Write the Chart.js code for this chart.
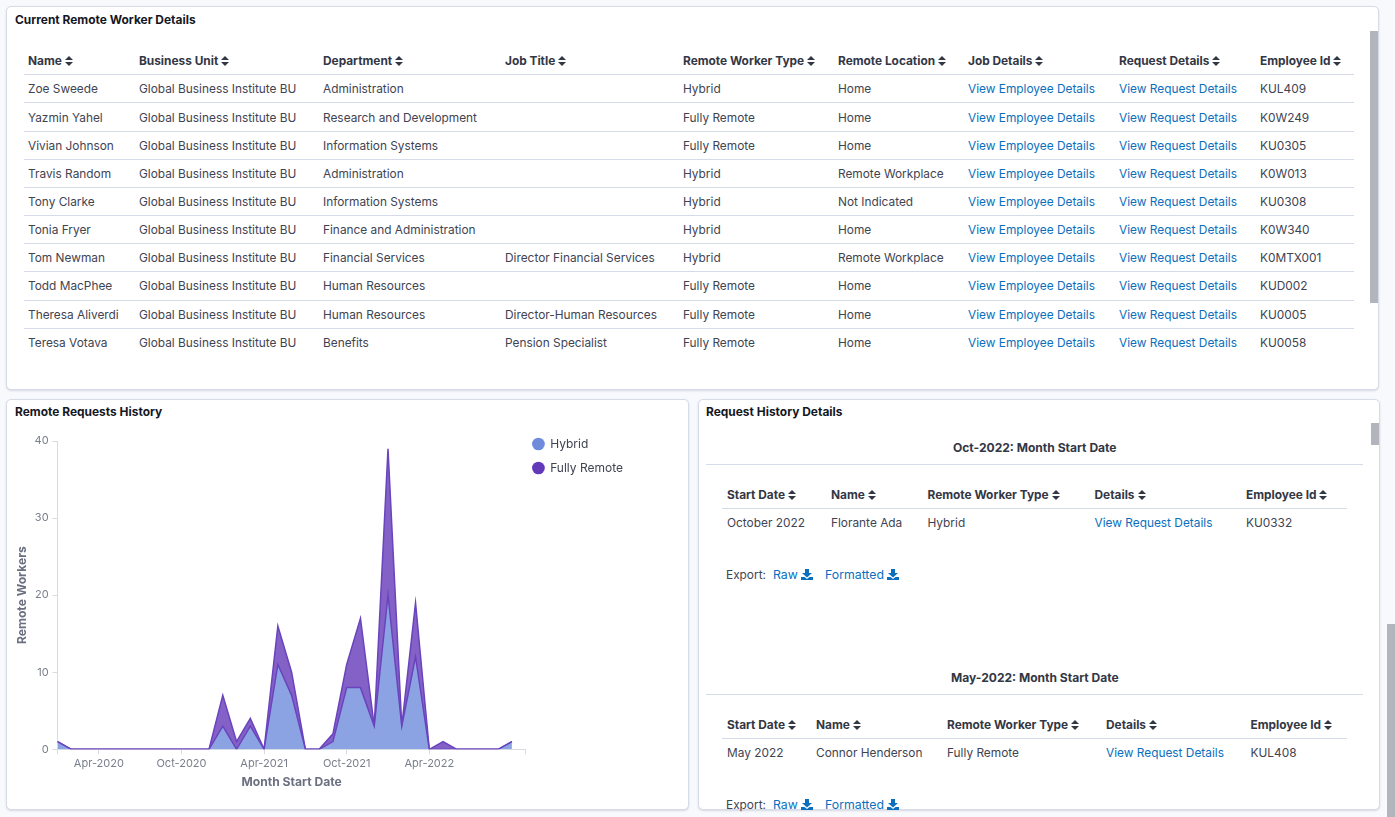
<!DOCTYPE html>
<html><head><meta charset="utf-8">
<script src="https://cdn.jsdelivr.net/npm/chart.js@4"></script>
<style>
html,body{margin:0;padding:0;width:1395px;height:817px;overflow:hidden;background:#f8f9fc;font-family:Inter,"Noto Sans",sans-serif;color:#3f4452;font-size:11.87px}
.panel{position:absolute;background:#fff;border:1px solid #d5dbe9;border-radius:5px;box-shadow:0 1px 2px rgba(60,70,110,.18);box-sizing:border-box;overflow:hidden}
.title{position:absolute;font-weight:700;font-size:11.95px;color:#15171f;white-space:nowrap;line-height:14px}
.c{position:absolute;white-space:nowrap;line-height:14px;transform:translateY(-7px)}
.h{font-weight:700;color:#333744}
.t{font-size:12.05px}
.e{font-size:12.3px}
.l{color:#0b6fbd}
.hr{position:absolute;height:1px;background:#d5dbe9}
.sb{position:absolute;background:#b3b5bd}
svg.s{display:inline-block;margin-left:3px;vertical-align:-1px}
svg.d{display:inline-block;margin-left:3px;vertical-align:-1px}
canvas{position:absolute}
</style></head><body>
<div class="panel" style="left:6px;top:6px;width:1373px;height:384px"></div>
<div class="panel" style="left:6px;top:399px;width:683px;height:411px"></div>
<div class="panel" id="p3" style="left:698px;top:399px;width:682px;height:411px"></div>
<div class="title" style="left:15px;top:13px">Current Remote Worker Details</div>
<div class="title" style="left:15px;top:405px">Remote Requests History</div>
<div class="title" style="left:706px;top:405px">Request History Details</div>
<div class="sb" style="left:1370px;top:31px;width:8px;height:272px"></div>
<div class="sb" style="left:1371px;top:423px;width:8px;height:22px"></div>
<div class="sb" style="left:1387px;top:624px;width:8px;height:193px"></div>
<div id="root"></div>
<canvas id="chart" style="left:7px;top:425px;width:680px;height:380px" width="680" height="380"></canvas>
<script>
const workerHeaders = ["Name","Business Unit","Department","Job Title","Remote Worker Type","Remote Location","Job Details","Request Details","Employee Id"];
const workerNames = ["Zoe Sweede","Yazmin Yahel","Vivian Johnson","Travis Random","Tony Clarke","Tonia Fryer","Tom Newman","Todd MacPhee","Theresa Aliverdi","Teresa Votava"];
const workerDepartments = ["Administration","Research and Development","Information Systems","Administration","Information Systems","Finance and Administration","Financial Services","Human Resources","Human Resources","Benefits"];
const workerJobTitles = ["","","","","","","Director Financial Services","","Director-Human Resources","Pension Specialist"];
const workerTypes = ["Hybrid","Fully Remote","Fully Remote","Hybrid","Hybrid","Hybrid","Hybrid","Fully Remote","Fully Remote","Fully Remote"];
const workerLocations = ["Home","Home","Home","Remote Workplace","Not Indicated","Home","Remote Workplace","Home","Home","Home"];
const workerIds = ["KUL409","K0W249","KU0305","K0W013","KU0308","K0W340","K0MTX001","KUD002","KU0005","KU0058"];

const months = ["Jan-2020","Feb-2020","Mar-2020","Apr-2020","May-2020","Jun-2020","Jul-2020","Aug-2020","Sep-2020","Oct-2020","Nov-2020","Dec-2020",
 "Jan-2021","Feb-2021","Mar-2021","Apr-2021","May-2021","Jun-2021","Jul-2021","Aug-2021","Sep-2021","Oct-2021","Nov-2021","Dec-2021",
 "Jan-2022","Feb-2022","Mar-2022","Apr-2022","May-2022","Jun-2022","Jul-2022","Aug-2022","Sep-2022","Oct-2022","Nov-2022"];
const hybrid =      [1,0,0,0,0,0,0,0,0,0,0,0, 3,0,3,0,11,7,0,0,1,8,8,3, 20,3,12,0,0,0,0,0,0,1,null];
const fullyRemote = [0,0,0,0,0,0,0,0,0,0,0,0, 4,1,1,0,5,3,0,0,1,3,9,0, 19,0,7,0,1,0,0,0,0,0,null];
const labelledMonths = ["Apr-2020","Oct-2020","Apr-2021","Oct-2021","Apr-2022"];

const root = document.getElementById('root');
const sortIcon = '<svg class="s" width="8" height="10" viewBox="0 0 8 10"><path d="M4 0L8 4H0zM4 10L0 6H8z" fill="#333744"/></svg>';
const dlIcon = '<svg class="d" width="12" height="11" viewBox="0 0 12 11"><path d="M4 0H8V4H11L6 8.5 1 4H4z" fill="#0b6fbd"/><path d="M0 8H3.5L6 10 8.5 8H12V11H0z" fill="#0b6fbd"/></svg>';
function cell(x,y,text,cls){const d=document.createElement('div');d.className='c '+(cls||'');d.style.left=x+'px';d.style.top=y+'px';d.innerHTML=text;root.appendChild(d);}
function hr(x,y,w){const d=document.createElement('div');d.className='hr';d.style.left=x+'px';d.style.top=y+'px';d.style.width=w+'px';root.appendChild(d);}

const colX=[28,139,323,505,683,838,968,1119,1260];
const rowY=[88.5,117.5,145.5,173.5,201.5,229.5,257.5,285.5,314.5,342.5];
const rowLineY=[102,131,159,187,215,243,271,300,328];
workerHeaders.forEach((h,i)=>cell(colX[i],60.5,h+sortIcon,'h'));
hr(24,74,1330);
rowLineY.forEach(y=>hr(24,y,1330));
workerNames.forEach((n,r)=>{
  const y=rowY[r];
  cell(colX[0],y,n);cell(colX[1],y,"Global Business Institute BU");cell(colX[2],y,workerDepartments[r]);
  cell(colX[3],y,workerJobTitles[r]);cell(colX[4],y,workerTypes[r]);cell(colX[5],y,workerLocations[r]);
  cell(colX[6],y,"View Employee Details",'l');cell(colX[7],y,"View Request Details",'l');cell(colX[8],y,workerIds[r]);
});

function detail(y0,title,titleX,xs,vals){
  cell(titleX,y0,title,'h t');
  hr(706,Math.floor(y0+16.5),657);
  const hy=y0+47;
  ["Start Date","Name","Remote Worker Type","Details","Employee Id"].forEach((h,i)=>cell(xs[i],hy,h+sortIcon,'h'));
  hr(722,Math.floor(hy+14),625);
  vals.forEach((v,i)=>cell(xs[i],hy+28.5,v,i==3?'l':''));
  cell(726,y0+127,'Export:','');
  cell(773,y0+127,'Raw'+dlIcon,'l e');
  cell(825,y0+127,'Formatted'+dlIcon,'l e');
}
detail(447.5,"Oct-2022: Month Start Date",953,[727,831,927.5,1094.5,1246],["October 2022","Florante Ada","Hybrid","View Request Details","KU0332"]);
detail(677.5,"May-2022: Month Start Date",951,[727,816,947,1106,1250.5],["May 2022","Connor Henderson","Fully Remote","View Request Details","KUL408"]);

const legendPlacement={id:'legendPlacement',afterLayout(c){c.legend.left=c.chartArea.right-5;c.legend.top=c.chartArea.top-15;}};
new Chart(document.getElementById('chart'),{
  type:'line',
  plugins:[legendPlacement],
  data:{labels:months,datasets:[
    {label:'Hybrid',data:hybrid,fill:'origin',backgroundColor:'rgba(111,140,220,.8)',borderColor:'#6a44bd',borderWidth:1.5,pointRadius:0,tension:0,stack:'a',spanGaps:false},
    {label:'Fully Remote',data:fullyRemote,fill:'-1',backgroundColor:'rgba(100,57,185,.8)',borderColor:'#6a44bd',borderWidth:1.5,pointRadius:0,tension:0,stack:'a',spanGaps:false}
  ]},
  options:{
    responsive:false,animation:false,devicePixelRatio:1,
    layout:{padding:{top:16,right:49,bottom:15,left:8}},
    plugins:{tooltip:{enabled:false},
      legend:{position:'right',align:'start',onClick:null,labels:{usePointStyle:true,pointStyle:'circle',boxHeight:9,boxWidth:11.5,font:{family:'Inter',size:12},color:'#3f4452',padding:12,
        generateLabels:c=>c.data.datasets.map((d,i)=>({text:d.label,datasetIndex:i,pointStyle:'circle',lineWidth:0,fontColor:'#3f4452',
          fillStyle:['#6f8cdc','#6439b9'][i],strokeStyle:['#6f8cdc','#6439b9'][i]}))}}},
    scales:{
      x:{stacked:true,offset:false,grid:{display:true,drawOnChartArea:false,drawTicks:true,tickLength:5,tickColor:'#d8dbe2'},border:{color:'#d8dbe2'},
        afterBuildTicks:s=>{s.ticks=s.ticks.filter(t=>t.value===0||t.value===months.length-1||labelledMonths.includes(months[t.value]));},
        ticks:{autoSkip:false,maxRotation:0,color:'#7a7f8c',font:{family:'Inter',size:11},padding:3,callback:function(v){return labelledMonths.includes(months[v])?months[v]:'';}},
        title:{display:true,text:'Month Start Date',color:'#6b7080',font:{family:'Inter',size:12.1,weight:'bold'},padding:{top:2,bottom:0}}},
      y:{stacked:true,min:0,max:40,grid:{display:true,drawOnChartArea:false,drawTicks:true,tickLength:5,tickColor:'#d8dbe2'},border:{color:'#d8dbe2'},
        ticks:{stepSize:10,color:'#7a7f8c',font:{family:'Inter',size:11},padding:4},
        title:{display:true,text:'Remote Workers',color:'#6b7080',font:{family:'Inter',size:12.1,weight:'bold'},padding:{top:0,bottom:1}}}
    }
  }
});
</script>
</body></html>
